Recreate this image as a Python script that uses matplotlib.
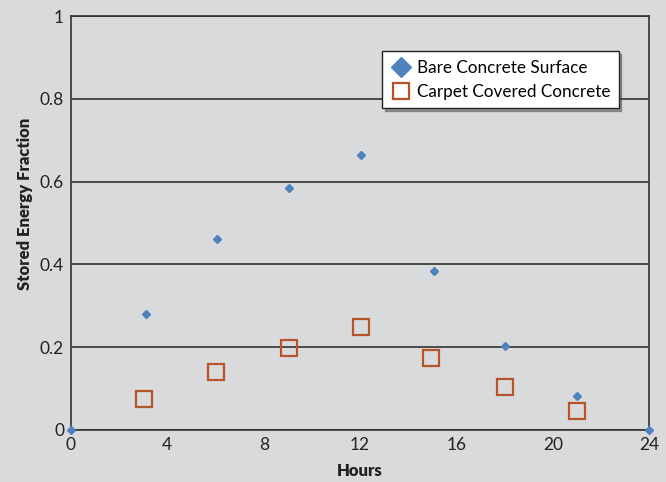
import numpy as np
import matplotlib.pyplot as plt

plt.rcParams['font.family'] = ['Lato', 'DejaVu Sans']

hours_bare = [0, 3.1, 6.05, 9.05, 12.05, 15.05, 18.0, 21.0, 24]
bare = [0, 0.28, 0.461, 0.585, 0.664, 0.384, 0.203, 0.082, 0]

hours_carpet = [3.05, 6.0, 9.05, 12.05, 14.95, 18.0, 21.0]
carpet = [0.075, 0.14, 0.198, 0.249, 0.174, 0.104, 0.046]

bg = '#d9dadc'
fig = plt.figure(figsize=(6.66, 4.82), dpi=100, facecolor=bg)
ax = fig.add_axes([0.1066, 0.1079, 0.868, 0.8589], facecolor=bg)

ax.plot(hours_bare, bare, linestyle='', marker='D', markersize=4.5,
        color='#4f81bd', label='Bare Concrete Surface', clip_on=False, zorder=3)
ax.plot(hours_carpet, carpet, linestyle='', marker='s', markersize=11,
        markerfacecolor='none', markeredgecolor='#b5532a', markeredgewidth=1.6,
        label='Carpet Covered Concrete', zorder=3)

ax.set_xlim(0, 24)
ax.set_ylim(0, 1)
ax.set_xticks(np.arange(0, 25, 4))
ax.set_yticks([0, 0.2, 0.4, 0.6, 0.8, 1])
ax.set_yticklabels(['0', '0.2', '0.4', '0.6', '0.8', '1'])
ax.tick_params(length=0, labelsize=12.5, colors='#222222', pad=5)
ax.yaxis.grid(True, color='#333333', linewidth=1.2)
ax.set_axisbelow(True)
for s in ax.spines.values():
    s.set_color('#333333')
    s.set_linewidth(1.2)

ax.set_xlabel('Hours', fontsize=12, fontweight='heavy', color='#222222', labelpad=7)
ax.set_ylabel('Stored Energy Fraction', fontsize=12, fontweight='heavy', color='#222222',
              labelpad=2)
ax.yaxis.set_label_coords(-0.065, 0.545)

leg = ax.legend(loc='upper right', bbox_to_anchor=(0.962, 0.935), fontsize=12.3,
                frameon=True, fancybox=False, shadow=True, framealpha=1,
                edgecolor='#222222', handletextpad=0.3, borderpad=0.5,
                labelspacing=0.45, handlelength=1.2)
leg.get_frame().set_linewidth(1.0)
leg.legend_handles[0].set_markersize(10)

fig.savefig('out.png', dpi=100, facecolor=bg)
